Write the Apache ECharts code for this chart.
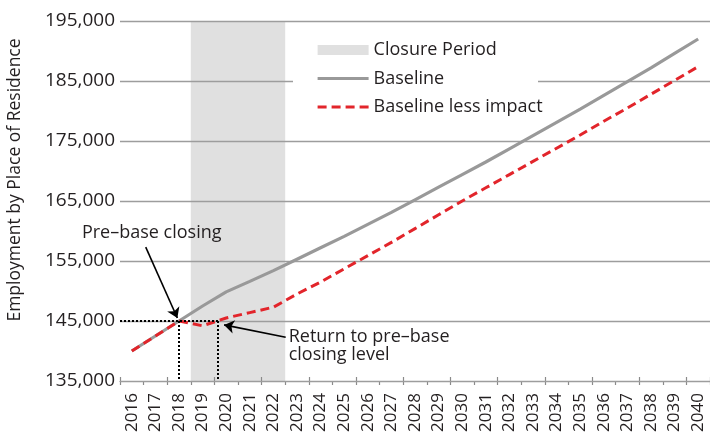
<!DOCTYPE html>
<html>
<head>
<meta charset="utf-8">
<script src="https://cdn.jsdelivr.net/npm/echarts@6/dist/echarts.min.js"></script>
<style>
html,body{margin:0;padding:0;background:#fff;}
#chart{width:710px;height:438px;}
</style>
</head>
<body>
<div id="chart"></div>
<script>
// ---- data ----
const years = ['2016','2017','2018','2019','2020','2021','2022','2023','2024','2025','2026','2027','2028',
  '2029','2030','2031','2032','2033','2034','2035','2036','2037','2038','2039','2040'];
const baseline = [140000,142500,145000,147500,149850,151600,153400,155300,157200,159100,161100,163100,165200,
  167300,169400,171500,173700,175900,178100,180300,182600,184900,187200,189600,192000];
const lessImpact = [140000,142500,145000,144200,145500,146400,147300,149500,151500,153700,155900,158100,160400,
  162700,165000,167200,169400,171600,173800,176000,178300,180500,182800,185100,187400];
const closureYears = ['2019','2020','2021','2022'];
const yMin = 135000, yMax = 195000, yStep = 10000;
// annotation anchors in data units (x = band position on a 0..25 scale, y = employment)
const preBasePoint = [2.5, 145000];
const returnPoint = [4.16, 145000];
const arrow1 = [[1.09, 157300], [2.43, 145500]];
const arrow2 = [[7.02, 142300], [4.41, 144350]];

const FONT = '"Open Sans", sans-serif';
const TXT = '#231f20';
const GRAY = '#999999', RED = '#e2252b', SHADE = '#e0e0e0';

// closure band: from the start of the first closure year's band to the end of the last one
const cStart = years.indexOf(closureYears[0]);
const cEnd = years.indexOf(closureYears[closureYears.length - 1]) + 1;
const closureArea = [[cStart, yMax], [cEnd, yMax]];

const chart = echarts.init(document.getElementById('chart'));
const option = {
  animation: false,
  grid: { left: 120, right: -4.75, top: 21, bottom: 57, containLabel: false },
  legend: {
    orient: 'vertical',
    left: 293, top: 30, z: 10,
    padding: [10, 20, 10, 23],
    itemWidth: 51, itemHeight: 10, itemGap: 8.5,
    textStyle: { fontFamily: FONT, fontSize: 18, color: TXT, lineHeight: 20 },
    data: [
      { name: 'Closure Period', icon: 'rect', itemStyle: { color: SHADE, opacity: 1 } },
      { name: 'Baseline', itemStyle: { opacity: 0 }, lineStyle: { color: GRAY, width: 3.2, type: 'solid' } },
      { name: 'Baseline less impact', itemStyle: { opacity: 0 }, lineStyle: { color: RED, width: 3, type: [9, 5] } }
    ]
  },
  xAxis: [{
    type: 'category', data: years, boundaryGap: true,
    axisLine: { lineStyle: { color: '#8a8a8a', width: 1.2 } },
    axisTick: { show: true, length: 4, lineStyle: { color: '#8a8a8a', width: 1.2 } },
    axisLabel: { rotate: 90, margin: 12, fontFamily: FONT, fontSize: 17, color: TXT, interval: 0 },
    splitLine: { show: false }
  }, {
    type: 'value', min: 0, max: 25, show: false
  }, {
    type: 'category', data: years, boundaryGap: true, position: 'bottom',
    axisLine: { show: false },
    axisTick: { show: true, inside: true, length: 4, lineStyle: { color: '#8a8a8a', width: 1.2 } },
    axisLabel: { show: false }, splitLine: { show: false }
  }],
  yAxis: {
    type: 'value', min: yMin, max: yMax, interval: yStep, z: 1,
    axisLine: { show: false }, axisTick: { show: false },
    axisLabel: { margin: 5, fontFamily: FONT, fontSize: 19, color: TXT,
      formatter: v => v.toLocaleString('en-US') },
    splitLine: { lineStyle: { color: '#9d9d9d', width: 1.4 } }
  },
  series: [{
    name: 'Closure Period', type: 'line', xAxisIndex: 1, yAxisIndex: 0, data: closureArea, z: 0,
    symbol: 'none', silent: true,
    lineStyle: { width: 0, color: SHADE }, itemStyle: { color: SHADE },
    areaStyle: { color: SHADE, opacity: 1, origin: 'start' }
  }, {
    name: 'Baseline', type: 'line', data: baseline, symbol: 'none', z: 3,
    lineStyle: { color: GRAY, width: 3.2 }, itemStyle: { color: GRAY }
  }, {
    name: 'Baseline less impact', type: 'line', data: lessImpact, symbol: 'none', z: 4,
    lineStyle: { color: RED, width: 3, type: [9, 5] }, itemStyle: { color: RED }
  }, {
    name: 'annot', type: 'line', xAxisIndex: 1, yAxisIndex: 0, data: [], z: 5, silent: true,
    markLine: {
      silent: true, animation: false,
      label: { show: false },
      data: [
        [{ coord: [0, preBasePoint[1]], symbol: 'none' }, { coord: returnPoint, symbol: 'none' }],
        [{ coord: preBasePoint, symbol: 'none' }, { coord: [preBasePoint[0], yMin], symbol: 'none' }],
        [{ coord: returnPoint, symbol: 'none' }, { coord: [returnPoint[0], yMin], symbol: 'none' }]
      ],
      lineStyle: { color: '#000', width: 2, type: [2, 2] }
    }
  }, {
    name: 'arrows', type: 'line', xAxisIndex: 1, yAxisIndex: 0, data: [], z: 6, silent: true,
    markLine: {
      silent: true, animation: false,
      symbol: ['none', 'arrow'], symbolSize: 10,
      label: { show: false },
      data: [
        [{ coord: arrow1[0] }, { coord: arrow1[1] }],
        [{ coord: arrow2[0] }, { coord: arrow2[1] }]
      ],
      lineStyle: { color: '#000', width: 1.6, type: 'solid' }
    }
  }]
};
chart.setOption(option);

const p1 = chart.convertToPixel({ xAxisIndex: 1, yAxisIndex: 0 }, arrow1[0]);
const p2 = chart.convertToPixel({ xAxisIndex: 1, yAxisIndex: 0 }, arrow2[0]);
chart.setOption({
  graphic: [{
    type: 'rect', z: 3, silent: true,
    shape: { x: 293, y: 30, width: 245, height: 90 },
    style: { fill: '#ffffff' }
  }, {
    type: 'text', z: 100, rotation: Math.PI / 2,
    x: 15, y: 180,
    style: { text: 'Employment by Place of Residence', font: '17.5px ' + FONT, fill: TXT,
      textAlign: 'center', textVerticalAlign: 'middle' }
  }, {
    type: 'text', z: 100, x: p1[0] + 6, y: p1[1] - 14,
    style: { text: 'Pre\u2013base closing', font: '18px ' + FONT, fill: TXT,
      textAlign: 'center', textVerticalAlign: 'middle' }
  }, {
    type: 'text', z: 100, x: p2[0] + 3, y: p2[1] + 9,
    style: { text: 'Return to pre\u2013base\nclosing level', font: '18px ' + FONT, fill: TXT,
      textAlign: 'left', textVerticalAlign: 'middle', lineHeight: 18 }
  }]
});
</script>
</body>
</html>
